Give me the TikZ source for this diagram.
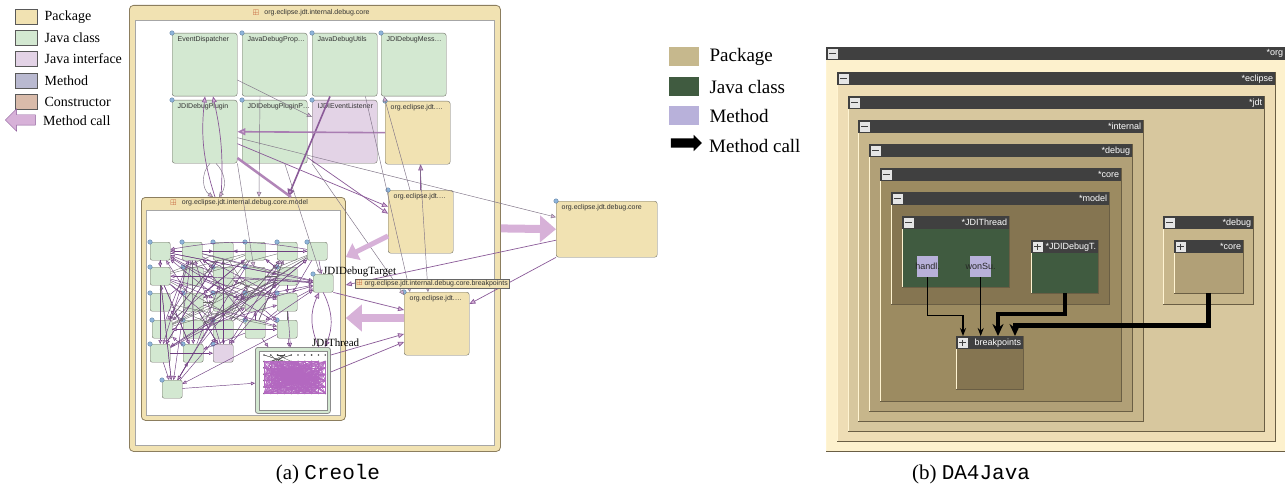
\documentclass[tikz,border=0pt]{standalone}
\usepackage{amsmath,amssymb}
\usepackage{fontspec}
\setmainfont{Liberation Serif}
\setsansfont{Liberation Sans}
\setmonofont{Liberation Mono}
\usetikzlibrary{arrows.meta,positioning,shapes.arrows}

\definecolor{crpkg}{HTML}{F1E2B2}
\definecolor{crcls}{HTML}{D3E8D1}
\definecolor{crint}{HTML}{E3D3E6}
\definecolor{crmeth}{HTML}{B9B9D0}
\definecolor{crctor}{HTML}{D9BBAA}
\definecolor{crline}{HTML}{707068}
\definecolor{crframe}{HTML}{8C7E5E}
\definecolor{arrpink}{HTML}{D7B1D8}
\definecolor{edgepur}{HTML}{8A5A98}
\definecolor{edgegray}{HTML}{7F7386}
\definecolor{edgedark}{HTML}{6E3E80}
\definecolor{cloudpur}{HTML}{B368C0}
\definecolor{iconred}{HTML}{C0502A}
\definecolor{dotblue}{HTML}{8FB5DA}
\definecolor{dotline}{HTML}{5A7CA0}
\definecolor{daorg}{HTML}{FDF1CD}
\definecolor{daecl}{HTML}{EEDDB5}
\definecolor{dajdt}{HTML}{D7C79E}
\definecolor{daint}{HTML}{C7B68B}
\definecolor{dadbg}{HTML}{B1A077}
\definecolor{dacore}{HTML}{9C8B61}
\definecolor{damodel}{HTML}{857551}
\definecolor{daclass}{HTML}{405B40}
\definecolor{dameth}{HTML}{B8B1DA}
\definecolor{dahdr}{HTML}{404040}
\definecolor{dapkg}{HTML}{C6B88D}
\definecolor{dalight}{HTML}{FFF4D2}
\definecolor{dadark}{HTML}{6A5E44}

\begin{document}
\begin{tikzpicture}[x=1pt, y=-1pt,
  lgswatch/.style={draw=black!65, anchor=north west, inner sep=0, minimum width=22pt, minimum height=15pt},
  lgtext/.style={inner sep=1pt, font=\fontsize{14}{16}\selectfont},
  crpkgbox/.style={draw=crframe, fill=crpkg, line width=0.8pt, rounded corners=4pt, anchor=north west, inner sep=0},
  crwhite/.style={draw=black!35, fill=white, line width=0.5pt, anchor=north west, inner sep=0},
  crtitle/.style={inner sep=0, font=\sffamily\fontsize{7}{8}\selectfont, text=black!80},
  picon/.style={inner sep=0, text=iconred, font=\fontsize{8}{8}\selectfont},
  crbox/.style={draw=crline, rounded corners=2.5pt, anchor=north west, inner sep=0, minimum width=65pt, minimum height=63pt},
  crtxt/.style={anchor=north west, xshift=5pt, yshift=-3pt, inner sep=0.5pt, font=\sffamily\fontsize{7}{8}\selectfont, text=black!80},
  crdot/.style={circle, draw=dotline, fill=dotblue, line width=0.3pt, inner sep=0, minimum size=4.5pt, anchor=center},
  gbox/.style={crbox, minimum width=20pt, minimum height=18pt, rounded corners=2pt, label={[crdot]north west:{}}},
  crlabel/.style={inner sep=0, font=\fontsize{11}{12}\selectfont},
  crbar/.style={anchor=north west, fill=crpkg, draw=black!60, inner sep=1.2pt, font=\sffamily\fontsize{7}{8}\selectfont, text=black!80},
  tdot/.style={circle, fill=black!70, inner sep=0, minimum size=1.8pt},
  cedge/.style={draw=edgepur, line width=0.7pt, -{Triangle[length=6pt,width=5pt,fill=arrpink]}},
  cthin/.style={draw=edgegray, line width=0.45pt, -{Triangle[length=5pt,width=4.5pt,fill=arrpink]}},
  cheavy/.style={draw=edgepur, line width=1.6pt, -{Triangle[length=8pt,width=7pt,fill=arrpink]}},
  cband/.style={draw=edgepur!50!arrpink, line width=2.5pt},
  cfat/.style={draw=arrpink, line width=8pt, -{Triangle[length=16pt,width=26pt]}},
  gedge/.style={draw=edgedark, line width=0.45pt, -{Triangle[length=4pt,width=3.5pt,fill=arrpink]}},
  gline/.style={draw=black!60, line width=0.35pt},
  tline/.style={draw=cloudpur, line width=0.4pt},
  tdark/.style={draw=black!70, line width=0.3pt},
  dabody/.style={anchor=north west, inner sep=0},
  bevlight/.style={draw=dalight, line width=0.8pt},
  bevdark/.style={draw=dadark, line width=0.8pt},
  dahdr/.style={anchor=north west, fill=dahdr, minimum height=13pt, inner sep=0},
  dabtn/.style={draw=black!75, fill=black!10, minimum size=10.5pt, inner sep=0},
  dabtnm/.style={dabtn, path picture={\draw[line width=1.5pt] ([xshift=2.2pt]path picture bounding box.west) -- ([xshift=-2.2pt]path picture bounding box.east);}},
  dabtnp/.style={dabtn, path picture={\draw[line width=1.5pt] ([xshift=2.2pt]path picture bounding box.west) -- ([xshift=-2.2pt]path picture bounding box.east);
    \draw[line width=1.5pt] ([yshift=-2.2pt]path picture bounding box.north) -- ([yshift=2.2pt]path picture bounding box.south);}},
  datitle/.style={anchor=east, inner sep=0, text=white, font=\sffamily\fontsize{9}{10}\selectfont},
  dameth/.style={anchor=north west, fill=dameth, minimum width=21pt, minimum height=21pt, inner sep=0},
  datxt/.style={inner sep=0, font=\sffamily\fontsize{9}{10}\selectfont, text=black!85},
  dathin/.style={draw=black, line width=1.3pt, -{Stealth[length=8pt,width=6pt]}},
  dathick/.style={draw=black, line width=4pt, -{Stealth[length=12pt,width=11pt]}},
  dlswatch/.style={anchor=north west, inner sep=0, minimum width=30pt, minimum height=19pt},
  dltext/.style={inner sep=1pt, font=\fontsize{19}{22}\selectfont},
  captext/.style={inner sep=0, font=\fontsize{21}{24}\selectfont}]
\useasboundingbox (0,0) rectangle (1285,484);

% ---- (a) Creole: legend
\foreach \n/\y/\fc/\txt in {lgpkg/9/crpkg/Package, lgcls/30/crcls/Java class, lgint/51/crint/Java interface, lgmeth/73/crmeth/Method, lgctor/94/crctor/Constructor}{
  \node[lgswatch, fill=\fc] (\n) at (15,\y) {};
  \node[lgtext, right=6pt of \n] (\n-t) {\txt};
}
\node[single arrow, shape border rotate=180, draw=edgepur, fill=arrpink, minimum height=30pt, inner xsep=0pt, inner ysep=5pt, single arrow head extend=6pt] (lgcall) at (23,120) {};
\node[lgtext, anchor=west] (lgcall-t) at (42,121) {Method call};

% ---- (a) Creole: packages and classes
\node[crpkgbox, minimum width=371pt, minimum height=446pt] (couter) at (129,5) {};
\node[crwhite, minimum width=359pt, minimum height=425pt] (couter-in) at (135,20) {};
\node[crtitle] (couter-t) at (317,13) {org.eclipse.jdt.internal.debug.core};
\node[picon, left=5pt of couter-t] (couter-i) {$\boxplus$};

\foreach \n/\x/\y/\fc/\txt in {ed/172/33/crcls/EventDispatcher, jdp/242/33/crcls/JavaDebugProp\ldots, jdu/312/33/crcls/JavaDebugUtils, jdm/381/33/crcls/JDIDebugMess\ldots,
  plug/172/100/crcls/JDIDebugPlugin, plugp/242/100/crcls/JDIDebugPluginP\ldots, evl/312/100/crint/IJDIEventListener, pk1/385/101/crpkg/org.eclipse.jdt.\ldots,
  pk2/388/190/crpkg/org.eclipse.jdt.\ldots, bpk/404/292/crpkg/org.eclipse.jdt.\ldots}
  \node[crbox, fill=\fc, label={[crtxt]north west:\txt}, label={[crdot]north west:{}}] (\n) at (\x,\y) {};
\node[crbox, fill=crpkg, minimum width=101pt, minimum height=56pt, label={[crtxt]north west:org.eclipse.jdt.debug.core}, label={[crdot]north west:{}}] (dcore) at (556,201) {};

\node[crpkgbox, minimum width=204pt, minimum height=223pt] (cmodel) at (141,197) {};
\node[crwhite, minimum width=194pt, minimum height=205pt] (cmodel-in) at (146,210) {};
\node[crtitle] (cmodel-t) at (245,203) {org.eclipse.jdt.internal.debug.core.model};
\node[picon, left=5pt of cmodel-t] (cmodel-i) {$\boxplus$};

\foreach \n/\x/\y/\fc in {1/150/242/crcls, 2/182/242/crcls, 3/213/242/crcls, 4/245/242/crcls, 5/277/242/crcls, 6/307/242/crcls,
  7/150/267/crcls, 8/183/267/crcls, 9/213/267/crcls, 10/245/267/crcls, 11/277/267/crcls,
  12/150/293/crcls, 13/183/293/crcls, 14/213/293/crcls, 15/245/293/crcls, 16/277/293/crcls,
  17/152/320/crcls, 18/183/320/crcls, 19/213/320/crcls, 20/245/320/crcls, 21/277/320/crcls,
  22/150/344/crcls, 23/183/344/crcls, 24/213/344/crint, 25/162/380/crcls}
  \node[gbox, fill=\fc] (g\n) at (\x,\y) {};
\node[gbox, fill=crcls] (tgt) at (313,274) {};

\node[crbox, fill=crcls, draw=black!45, line width=0.8pt, minimum width=75pt, minimum height=66pt] (thr) at (255,347) {};
\node[crwhite, draw=black!45, minimum width=68pt, minimum height=59pt] (thr-in) at (258.5,350.5) {};
\foreach \i in {0,...,9}
  \foreach \j in {0,...,6}
    \node[tdot] (t-\i-\j) at ({264+6.8*\i},{355+6.4*\j}) {};

% calls inside JDIThread
\pgfmathsetseed{11}
\foreach \k in {1,...,15}{
  \pgfmathrandominteger{\ia}{0}{4}\pgfmathrandominteger{\ja}{0}{1}
  \pgfmathrandominteger{\ib}{0}{4}\pgfmathrandominteger{\jb}{0}{1}
  \draw[tdark] (t-\ia-\ja.center) -- (t-\ib-\jb.center);
}
\foreach \k in {1,...,520}{
  \pgfmathrandominteger{\ia}{0}{9}\pgfmathrandominteger{\ja}{1}{6}
  \pgfmathrandominteger{\ib}{0}{9}\pgfmathrandominteger{\jb}{1}{6}
  \draw[tline] (t-\ia-\ja.center) -- (t-\ib-\jb.center);
}

% calls inside the model package
\foreach \k in {1,...,90}{
  \pgfmathrandominteger{\ga}{1}{25}\pgfmathrandominteger{\gb}{1}{25}
  \ifnum\ga=\gb\else\draw[gedge] (g\ga) -- (g\gb);\fi
}
\foreach \k in {1,...,35}{
  \pgfmathrandominteger{\ga}{2}{21}\pgfmathrandominteger{\gb}{2}{21}
  \ifnum\ga=\gb\else\draw[gline] (g\ga) -- (g\gb);\fi
}
\foreach \ga in {1,2,6,8,9,10,14,15,16,20}
  \draw[gedge] (g\ga) -- (tgt);
\draw[gedge] (g6) to[bend right=10] (g1);
\draw[gedge] (g22) -- (g25);
\draw[gedge] (g25) -- (thr);
\draw[gedge] (g20) -- (thr);
\draw[gedge] (g21) -- (thr);
\draw[gedge] (g16) -- (thr);
\draw[cedge] (tgt.south) to[bend left=25] ([xshift=-6pt]thr.north east);
\draw[cedge] ([xshift=-12pt]thr.north east) to[bend left=25] ([xshift=-4pt]tgt.south);

% calls between packages and classes
\draw[cedge] ([xshift=74pt]cmodel.north west) to[bend left=12] ([xshift=33pt]ed.south west);
\draw[cedge] ([xshift=80pt]cmodel.north west) to[bend right=8] ([xshift=41pt]ed.south west);
\draw[cthin] ([xshift=38pt]plug.south west) to[bend right=50] ([xshift=72pt]cmodel.north west);
\draw[cthin] ([xshift=44pt]plug.south west) to[bend left=40] ([xshift=78pt]cmodel.north west);
\draw[cthin] ([yshift=-47pt]ed.north east) -- ([yshift=-17pt]evl.north west);
\draw[cheavy] ([xshift=18pt]jdu.south west) -- ([xshift=147pt]cmodel.north west);
\draw[cheavy, draw=edgepur!60!arrpink] (pk1.west) -- (plug.east);
\draw[cthin] ([yshift=-6pt]plug.east) -- ([yshift=12pt]dcore.west);
\draw[cedge] ([yshift=-12pt]plug.east) -- ([yshift=15pt]pk2.west);
\draw[cedge] ([yshift=6pt]plugp.south east) -- ([yshift=8pt]pk2.west);
\draw[cband] ([yshift=-58pt]plug.north east) -- ([xshift=150pt]cmodel.north west);
\draw[cthin] ([xshift=18pt]jdp.south west) -- ([xshift=118pt]cmodel.north west);
\draw[cthin] ([xshift=22pt]pk2.north west) -- ([xshift=3pt]jdm.south west);
\draw[cedge] (pk2.north) -- (pk2.north |- pk1.south);
\draw[cthin] ([xshift=35pt]pk1.south west) -- ([xshift=24pt]bpk.north west);
\draw[cthin] (evl.south west) -- ([yshift=-3pt]bpk.north west);
\draw[cthin] ([xshift=-12pt]jdu.south east) -- ([xshift=6pt]bpk.north west);
\draw[cthin] (plug.south east) -- (g10);
\draw[cthin] ([xshift=10pt]plugp.south) -- (tgt);
\draw[cedge] ([yshift=-11pt]dcore.west) -- ([yshift=-88pt]cmodel.north east);
\draw[cedge] (dcore.south west) -- ([yshift=-12pt]bpk.north east);
\draw[cedge] (tgt.south east) -- ([yshift=-18pt]bpk.north west);
\draw[cedge] ([yshift=-8pt]thr.north east) -- ([yshift=-42pt]bpk.north west);
\draw[cedge] ([yshift=-25pt]thr.north east) -- ([yshift=-50pt]bpk.north west);
\draw[cfat] (couter.east) -- (dcore.west);
\draw[cfat] ([yshift=-26pt]bpk.north west) -- ([yshift=-121pt]cmodel.north east);
\draw[cfat, line width=5pt, -{Triangle[length=12pt,width=18pt]}] ([yshift=-46pt]pk2.north west) -- ([yshift=-60pt]cmodel.north east);

\node[crlabel, anchor=base west] (tgt-t) at (323,274) {JDIDebugTarget};
\node[crlabel, anchor=base west] (thr-t) at (312,346) {JDIThread};
\node[crbar] (bplab) at (355,279) {\textcolor{iconred}{$\boxplus$}\ org.eclipse.jdt.internal.debug.core.breakpoints};

% ---- (b) DA4Java: legend
\foreach \n/\y/\fc/\txt in {dlpkg/47/dapkg/Package, dlcls/77/daclass/Java class, dlmeth/106/dameth/Method}{
  \node[dlswatch, fill=\fc] (\n) at (669,\y) {};
  \node[dltext, right=9pt of \n] (\n-t) {\txt};
}
\node[single arrow, fill=black, minimum height=31pt, inner xsep=0pt, inner ysep=4.5pt, single arrow head extend=3.5pt] (dlcall) at (684,143) {};
\node[dltext, anchor=west] (dlcall-t) at (708,146) {Method call};

% ---- (b) DA4Java: nested packages
\foreach \n/\xa/\ya/\xb/\yb/\fc/\txt/\sg in {org/826/47/1285/451/daorg/*org/dabtnm,
  ecl/837/72/1275/441/daecl/*eclipse/dabtnm,
  jdt/848/96/1264/431/dajdt/*jdt/dabtnm,
  int/858/120/1143/421/daint/*internal/dabtnm,
  dbg/869/144/1132/411/dadbg/*debug/dabtnm,
  core/880/168/1121/401/dacore/*core/dabtnm,
  model/891/192/1109/304/damodel/*model/dabtnm,
  thread/902/216/1009/287/daclass/*JDIThread/dabtnm,
  jdidt/1031/240/1098/293/daclass/*JDIDebugT./dabtnp,
  dbgr/1163/216/1253/304/daint/*debug/dabtnm,
  corer/1174/240/1243/293/dadbg/*core/dabtnp,
  bkp/956/336/1023/389/damodel/breakpoints/dabtnp}{
  \pgfmathsetmacro\w{\xb-\xa}\pgfmathsetmacro\h{\yb-\ya}
  \node[dabody, fill=\fc, minimum width=\w pt, minimum height=\h pt] (\n) at (\xa,\ya) {};
  \draw[bevlight] (\n.south west) -- (\n.north west) -- (\n.north east);
  \draw[bevdark] (\n.north east) -- (\n.south east) -- (\n.south west);
  \node[dahdr, minimum width=\w pt] (\n-h) at (\xa,\ya) {};
  \node[\sg] (\n-b) at ([xshift=6.5pt]\n-h.west) {};
  \node[datitle] (\n-t) at ([xshift=-2pt]\n-h.east) {\txt};
}
\node[dameth, label={[datxt]center:handl.}] (handl) at (917,256) {};
\node[dameth, label={[datxt]center:wonSu.}] (wonsu) at (970,256) {};

\draw[dathin] (handl.south) -- ++(0,38) -| ([xshift=7pt]bkp.north west);
\draw[dathin] (wonsu.south) -- (wonsu.south |- bkp.north);
\draw[dathick] (jdidt.south) -- ++(0,21) -| ([xshift=42pt]bkp.north west);
\draw[dathick, line width=5pt] (corer.south) -- ++(0,32) -| ([xshift=59pt]bkp.north west);

% ---- captions
\node[captext] (capa) at (328,474) {(a) \texttt{Creole}};
\node[captext] (capb) at (971,474) {(b) \texttt{DA4Java}};
\end{tikzpicture}
\end{document}
